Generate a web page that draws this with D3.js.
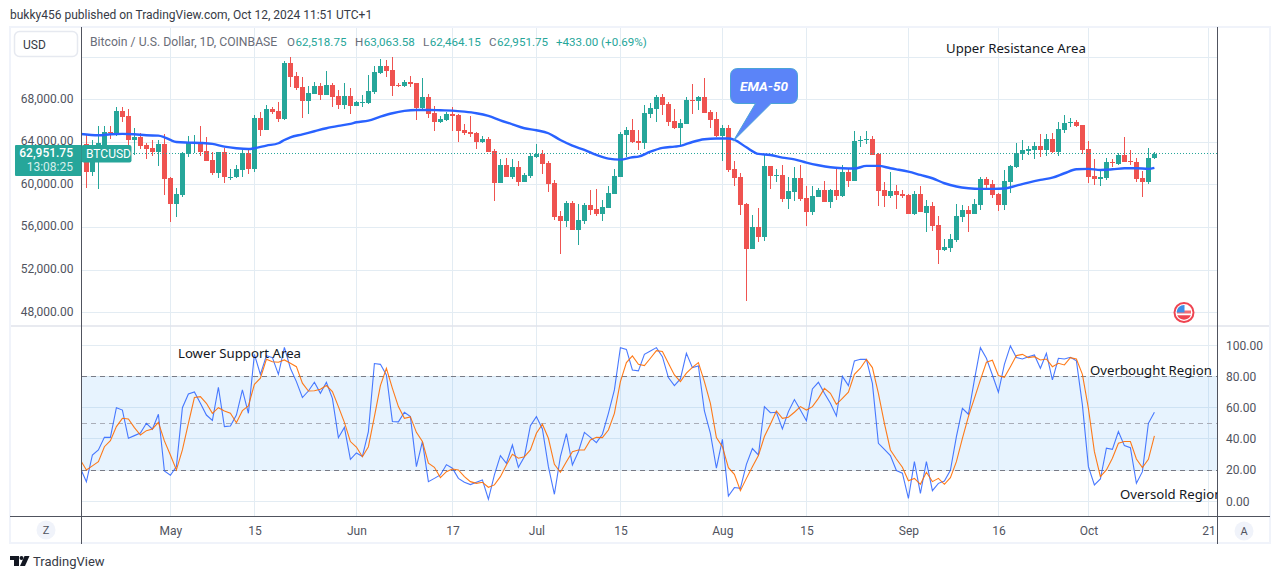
<!DOCTYPE html>
<html>
<head>
<meta charset="utf-8">
<script src="https://cdn.jsdelivr.net/npm/d3@7/dist/d3.min.js"></script>
<style>
    body { margin: 0; background: #fff; }
    svg { display: block; font-family: Roboto, sans-serif; }
    .tick text { fill: #50535e; font-size: 12px; }
</style>
</head>
<body>
<script>
// daily candles, first one is Apr 17 2024
var opens = [
    63820,61220,62980,63760,65010,64890,66960,66490,64230,64480,
    63760,63480,63100,63860,60660,58220,59060,62920,63950,64040,
    63200,62350,61130,63100,60720,60750,61410,63010,61510,66300,
    65170,67150,66960,66210,71470,70250,69210,67900,68550,69310,
    68460,69400,68370,67520,68370,67430,67740,67710,68740,70530,
    71190,70810,69430,69310,69680,69590,67240,68270,66770,65920,
    66110,66680,66580,65170,64980,64890,64040,64330,63200,60190,
    61880,60750,61690,60280,60850,62630,62950,62070,60190,57090,
    56620,58310,55770,56620,58120,57750,57280,57840,59160,60750,
    64700,65170,64140,63950,66680,67150,68270,67620,66020,65360,
    65740,68020,67900,68270,66860,66210,64610,65360,61510,60750,
    58220,53990,56050,55110,61790,60880,60940,58690,59340,60660,
    58780,57460,58870,59530,58400,59530,58970,61220,60380,64170,
    64260,64330,62920,59530,58970,59440,59160,59060,57280,59160,
    57370,58030,56240,53890,54080,54830,56990,57650,57280,58120,
    60570,60100,59160,58120,60280,61690,62920,63230,63290,63670,
    63290,64330,63100,65170,65860,65920,65640,63380,60850,60600,
    60660,62200,61980,62820,62260,62160,60660,60280,62518.75
];
var highs = [
    64700,64230,65550,65550,65550,67330,67360,67150,65360,64860,
    63920,64230,64230,64800,60790,59720,63130,64610,64700,65550,
    64510,63100,63100,63480,61510,61880,63290,63290,66580,66860,
    67520,67330,67800,71660,72030,70620,70150,69310,69680,69590,
    70720,69590,68930,69590,69120,67900,68460,70340,71190,71840,
    71750,72030,69590,69870,70250,69590,70060,68550,67430,66490,
    66860,67330,66680,65740,66490,64980,64610,64510,63380,62450,
    62540,62450,62260,61130,63010,63860,63290,62260,60470,57560,
    58500,58500,58220,58310,59530,59630,58590,59910,61510,64980,
    65450,66210,65170,67520,67710,68460,68550,67800,67150,66210,
    68270,69490,68370,70060,67050,66860,65640,65640,62260,61130,
    58310,57180,57840,62820,61790,61510,61880,60750,61690,61880,
    59910,59910,59720,60380,59630,61510,61880,61510,65080,64610,
    65080,64610,63010,60280,61220,60000,59530,59160,59440,59910,
    58590,58400,57090,54930,55400,58220,58120,58030,58690,60750,
    60750,60470,59250,61410,61880,63950,64230,63670,64040,64800,
    64800,64890,65920,66580,66300,66110,65640,64140,62450,61510,
    62540,62450,63010,64510,63290,62540,61320,63480,63063.58
];
var lows = [
    59720,60850,59630,63600,64330,64610,65890,63600,62820,63420,
    62450,62730,61790,59060,56520,56990,58900,62660,62980,62730,
    62260,60940,60660,60190,60470,60660,60750,61040,61220,64610,
    65170,66680,65920,66110,69210,68930,66300,66680,68550,67990,
    68460,67330,67150,67150,66680,67430,67330,67620,68550,70430,
    70150,68370,69210,69210,69210,66110,66960,66300,65080,65830,
    66020,65080,64040,64700,64510,63380,63950,63100,58500,60190,
    60750,60570,59910,60280,60660,62540,61040,59340,56710,53520,
    56050,55770,54360,56340,57180,57090,56620,57840,59160,60750,
    62660,63950,63290,63380,66300,65920,66580,65550,65270,63670,
    65740,66680,67050,66770,65360,64510,62260,61220,59910,57180,
    49100,53990,54640,54740,59630,60280,58400,57750,58500,58500,
    56150,57180,58870,58400,57840,58590,58870,59810,60380,63570,
    63860,62820,58030,57930,58780,57750,58780,57280,57180,57460,
    55580,55680,52580,53800,53700,54640,56520,55580,57280,57650,
    59530,58780,57560,57650,59250,61600,62350,62820,62450,62630,
    62730,63010,62730,64890,65450,65450,62920,60190,60000,59910,
    60470,61690,61880,62160,61880,60280,58870,60100,62464.15
];
var closes = [
    61220,62980,63920,64980,64920,66960,66390,64230,64480,63670,
    63380,63100,63860,60570,58220,59160,62980,63950,64040,63100,
    62260,61130,63100,60750,60790,61510,63010,61510,66300,65170,
    67150,66860,66210,71470,70150,69120,67900,68650,69310,68460,
    69400,68270,67520,68370,67430,67800,67800,68840,70620,71190,
    70720,69310,69370,69680,69490,67240,68270,66680,65920,66210,
    66680,66490,65080,64890,64800,64040,64330,63100,60190,61880,
    60750,61690,60280,60940,62730,62950,61980,60100,56990,56620,
    58310,55770,56710,58120,57650,57280,57930,59250,60850,64800,
    65170,64040,63950,66770,67240,68270,67520,65920,65360,65830,
    67990,67960,68270,66770,66110,64610,65360,61410,60660,58120,
    53990,56050,55110,61790,60850,60940,58690,59440,60660,58690,
    57460,58970,59530,58400,59530,58970,61220,60380,64140,64230,
    64330,62820,59440,58970,59440,59060,58970,57280,59160,57460,
    58030,56150,53890,54170,54930,57090,57650,57280,58220,60570,
    60000,59060,58120,60380,61790,63010,63290,63350,63670,63290,
    64330,63100,65270,65830,65920,65550,63290,60750,60570,60720,
    62160,62130,62820,62160,62200,60570,60280,62540,62951.75
];

// EMA-50, days counted from Apr 16
var emaDays = [
    0,3,5,7,9,11,13,14,15,16,18,20,22,24,26,28,29,31,33,34,35,37,39,41,43,45,46,48,50,52,
    54,56,58,60,62,64,66,68,70,72,74,76,78,80,82,84,86,88,90,92,93,95,97,99,100,102,104,106,108,109,
    111,113,115,117,119,121,123,125,127,129,131,133,135,136,138,140,142,144,146,148,150,152,154,156,158,160,
    162,164,166,168,170,172,174,176,178,179
];
var emaValues = [
    64800,64670,64760,64800,64760,64670,64640,64480,64230,64040,63980,63950,63860,63600,63450,63380,63450,63700,63920,64230,
    64480,64760,65050,65330,65550,65740,65890,66050,66420,66740,66960,67050,67050,67020,66990,66890,66740,66490,66080,65700,
    65330,65140,64860,64230,63700,63290,62820,62480,62380,62600,62660,63130,63480,63600,63670,64040,64290,64360,64360,64230,
    63540,62920,62820,62570,62410,62100,61850,61660,61570,61540,61790,61790,61570,61470,61250,60940,60630,60160,59850,59690,
    59630,59630,59660,59940,60220,60470,60690,61100,61470,61510,61410,61470,61570,61570,61510,61600
];

// lower pane, first value is Apr 16
var fastLine = [
    21.2,12.6,29.7,32.9,41.0,41.0,60.0,58.5,40.4,42.1,43.8,50.0,46.2,55.8,19.4,16.7,22.2,60.0,68.8,70.1,
    62.8,55.3,51.9,73.1,47.9,48.3,55.3,71.4,56.4,94.2,81.4,93.4,92.1,81.4,98.7,85.3,76.7,66.5,70.7,76.3,
    69.2,76.3,66.0,40.8,47.4,26.9,31.0,28.8,44.7,88.3,87.8,81.0,51.1,50.9,57.1,54.3,22.2,38.3,12.6,14.7,
    16.9,23.5,21.2,14.7,12.2,10.7,12.2,13.7,1.3,16.9,29.3,24.4,36.1,21.8,28.6,48.5,54.3,46.4,22.2,4.5,
    28.6,43.4,23.3,31.8,44.2,41.0,37.6,43.0,56.4,71.4,98.5,97.4,84.2,83.6,94.2,96.4,98.5,92.7,79.3,74.2,
    78.4,94.9,85.7,86.8,57.9,43.6,21.2,39.7,3.4,8.8,8.3,23.7,33.8,29.7,60.7,56.8,57.1,46.4,57.5,65.2,
    58.5,51.7,72.0,76.3,69.2,62.8,54.7,80.1,74.2,90.0,91.0,91.0,75.6,37.2,33.3,29.3,19.7,18.0,1.9,25.4,
    5.1,25.4,6.8,11.5,13.0,19.9,41.5,59.6,55.8,77.8,98.5,91.7,81.0,69.9,87.8,99.6,92.1,91.2,92.7,93.8,
    85.3,94.9,77.8,91.7,91.2,92.3,90.0,61.8,22.2,10.5,14.3,34.0,33.3,44.7,35.7,34.4,11.5,19.0,50.0,57.1
];
var slowLine = [
    26.5,20.1,22.7,25.4,35.0,38.9,47.9,53.2,52.8,47.2,42.5,45.3,46.4,50.6,38.7,29.7,20.1,32.9,50.0,66.5,
    67.1,62.8,56.4,60.0,57.9,56.4,50.4,58.1,61.1,75.0,78.9,91.0,89.5,89.1,90.6,88.5,86.3,75.7,70.7,70.9,
    71.8,74.2,70.3,60.7,50.6,38.3,34.8,28.6,35.0,54.3,74.2,85.3,72.4,60.7,53.2,54.1,44.2,38.3,24.4,21.8,
    15.2,19.0,20.7,20.1,15.8,12.6,11.5,12.2,9.0,10.5,15.8,23.3,30.1,27.6,28.6,32.9,43.6,49.4,40.4,23.7,
    18.6,25.4,31.8,32.9,32.9,39.3,41.0,40.8,45.7,56.4,76.7,88.9,93.2,87.8,87.0,91.7,96.6,96.0,88.5,81.0,
    76.7,82.1,85.9,88.9,76.7,62.8,40.8,35.0,21.6,17.3,6.8,14.7,22.2,29.3,41.5,49.4,57.9,53.2,53.9,57.1,
    60.7,58.5,60.7,66.0,72.4,69.2,62.2,66.0,69.9,81.4,85.3,91.0,85.7,69.2,50.0,32.9,27.1,21.8,13.2,14.7,
    10.9,18.6,12.6,14.7,10.9,15.2,25.4,40.4,54.3,66.0,77.8,89.1,90.4,80.6,79.5,86.3,93.4,94.2,92.1,92.7,
    90.6,91.2,86.3,88.5,87.4,92.1,91.2,81.4,59.6,31.8,15.8,20.1,27.6,37.2,38.3,38.3,27.1,21.6,26.9,41.9
];

var priceTicks = [48000, 52000, 56000, 60000, 64000, 68000];
var priceGridLevels = [48000, 52000, 56000, 60000, 64000, 68000, 72000];
var oscTicks = [0, 20, 40, 60, 80, 100];
var oscDashes = [20, 50, 80];
var timeTicks = [
    Date.UTC(2024, 4, 1), Date.UTC(2024, 4, 15), Date.UTC(2024, 5, 1), Date.UTC(2024, 5, 17),
    Date.UTC(2024, 6, 1), Date.UTC(2024, 6, 15), Date.UTC(2024, 7, 1), Date.UTC(2024, 7, 15),
    Date.UTC(2024, 8, 1), Date.UTC(2024, 8, 16), Date.UTC(2024, 9, 1), Date.UTC(2024, 9, 21)
];
var timeLabels = ['May', '15', 'Jun', '17', 'Jul', '15', 'Aug', '15', 'Sep', '16', 'Oct', '21'];

var DAY = 86400000;
var oscStart = Date.UTC(2024, 3, 16);
var candleStart = Date.UTC(2024, 3, 17);
var lastClose = closes[closes.length - 1];

var left = 81.5, right = 1217.5;
var green = '#26a69a', red = '#ef5350', gridColor = '#e3ecf3';

var x = d3.scaleUtc().domain([oscStart, Date.UTC(2024, 9, 21)]).range([80.4, 1208.4]);
var y = d3.scaleLinear().domain([48000, 72000]).range([312.6, 57.3]);
var yOsc = d3.scaleLinear().domain([0, 100]).range([501.3, 345.3]);

var svg = d3.select('body').append('svg').attr('width', 1281).attr('height', 579);

svg.append('defs').append('clipPath').attr('id', 'plot')
    .append('rect').attr('x', left).attr('y', 27).attr('width', right - left).attr('height', 490);

// frame
svg.append('rect').attr('x', 10).attr('y', 27).attr('width', 1260).attr('height', 516)
    .attr('fill', 'none').attr('stroke', '#f0f3fa').attr('stroke-width', 2);

// grids
var grid = svg.append('g').attr('stroke', gridColor).attr('shape-rendering', 'crispEdges');
grid.selectAll('.v').data(timeTicks).enter().append('line')
    .attr('x1', function(d) { return x(d); }).attr('x2', function(d) { return x(d); })
    .attr('y1', 28).attr('y2', 516);
grid.selectAll('.p').data(priceGridLevels).enter().append('line')
    .attr('x1', left).attr('x2', right)
    .attr('y1', function(d) { return y(d); }).attr('y2', function(d) { return y(d); });
grid.selectAll('.o').data(oscTicks).enter().append('line')
    .attr('x1', left).attr('x2', right)
    .attr('y1', function(d) { return yOsc(d); }).attr('y2', function(d) { return yOsc(d); });

// oscillator band
svg.append('rect').attr('x', left).attr('width', right - left)
    .attr('y', yOsc(80)).attr('height', yOsc(20) - yOsc(80))
    .attr('fill', '#2196f3').attr('fill-opacity', 0.11);
svg.selectAll('.dash').data(oscDashes).enter().append('line')
    .attr('x1', left).attr('x2', right)
    .attr('y1', function(d) { return yOsc(d); }).attr('y2', function(d) { return yOsc(d); })
    .attr('stroke', function(d) { return d == 50 ? '#a9adb8' : '#787b86'; })
    .attr('stroke-dasharray', '5,4')
    .attr('shape-rendering', 'crispEdges');

// candles
var candles = svg.append('g').attr('clip-path', 'url(#plot)');
var bars = candles.selectAll('g').data(closes).enter().append('g')
    .attr('fill', function(d, i) { return d >= opens[i] ? green : red; })
    .attr('shape-rendering', 'crispEdges');
function candleX(i) {
    return Math.floor(x(candleStart + i * DAY));
}
bars.append('rect')
    .attr('x', function(d, i) { return candleX(i); })
    .attr('width', 1)
    .attr('y', function(d, i) { return y(highs[i]); })
    .attr('height', function(d, i) { return y(lows[i]) - y(highs[i]); });
bars.append('rect')
    .attr('x', function(d, i) { return candleX(i) - 2; })
    .attr('width', 5)
    .attr('y', function(d, i) { return y(Math.max(opens[i], d)); })
    .attr('height', function(d, i) { return Math.max(1, Math.abs(y(opens[i]) - y(d))); });

// last price line
svg.append('line').attr('x1', left).attr('x2', right)
    .attr('y1', Math.floor(y(lastClose)) + 0.5).attr('y2', Math.floor(y(lastClose)) + 0.5)
    .attr('stroke', green).attr('stroke-dasharray', '1,2')
    .attr('shape-rendering', 'crispEdges');

// EMA
var emaLine = d3.line()
    .x(function(d, i) { return x(oscStart + d * DAY); })
    .y(function(d, i) { return y(emaValues[i]); })
    .curve(d3.curveMonotoneX);
svg.append('path').datum(emaDays).attr('d', emaLine)
    .attr('clip-path', 'url(#plot)')
    .attr('fill', 'none').attr('stroke', '#2962ff').attr('stroke-width', 2.4);

// oscillator lines
var oscLine = d3.line()
    .x(function(d, i) { return x(oscStart + i * DAY); })
    .y(function(d) { return yOsc(d); });
svg.append('path').datum(fastLine).attr('d', oscLine).attr('clip-path', 'url(#plot)')
    .attr('fill', 'none').attr('stroke', '#2962ff').attr('stroke-width', 1.1).attr('stroke-opacity', 0.85);
svg.append('path').datum(slowLine).attr('d', oscLine).attr('clip-path', 'url(#plot)')
    .attr('fill', 'none').attr('stroke', '#ff6d00').attr('stroke-width', 1.1).attr('stroke-opacity', 0.9);

// pane separators
svg.append('line').attr('x1', 11).attr('x2', 1269).attr('y1', 326).attr('y2', 326)
    .attr('stroke', '#e0e3eb').attr('stroke-width', 1.5);
svg.append('line').attr('x1', 10).attr('x2', 1270).attr('y1', 516.5).attr('y2', 516.5)
    .attr('stroke', '#50535e');
svg.append('line').attr('x1', left).attr('x2', left).attr('y1', 27).attr('y2', 544)
    .attr('stroke', '#50535e');
svg.append('line').attr('x1', right).attr('x2', right).attr('y1', 27).attr('y2', 544)
    .attr('stroke', '#50535e');

// axes
var priceAxis = d3.axisLeft(y).tickValues(priceTicks).tickFormat(d3.format(',.2f')).tickSize(0).tickPadding(8);
var gPrice = svg.append('g').attr('transform', 'translate(' + left + ',0)').call(priceAxis);
var oscAxis = d3.axisRight(yOsc).tickValues(oscTicks).tickFormat(d3.format('.2f')).tickSize(0).tickPadding(8.5);
var gOsc = svg.append('g').attr('transform', 'translate(' + right + ',0)').call(oscAxis);
var timeAxis = d3.axisBottom(x).tickValues(timeTicks)
    .tickFormat(function(d, i) { return timeLabels[i]; }).tickSize(0).tickPadding(9.5);
var gTime = svg.append('g').attr('transform', 'translate(0,516.5)').call(timeAxis);
gPrice.select('.domain').remove();
gOsc.select('.domain').remove();
gTime.select('.domain').remove();
svg.selectAll('.tick text').attr('font-family', 'Roboto, sans-serif');
gPrice.selectAll('.tick text').attr('dy', '0.2em');

// price tag
svg.append('rect').attr('x', 15).attr('y', 145).attr('width', 66.5).attr('height', 31).attr('rx', 1).attr('fill', green);
svg.append('rect').attr('x', 81.5).attr('y', 145).attr('width', 50).attr('height', 17.5).attr('rx', 2).attr('fill', green);
svg.append('text').attr('x', 73).attr('y', 157).attr('text-anchor', 'end').attr('fill', '#fff')
    .attr('font-size', 12).attr('font-weight', 500).text(d3.format(',.2f')(lastClose));
svg.append('text').attr('x', 73).attr('y', 171).attr('text-anchor', 'end').attr('fill', '#d6efec')
    .attr('font-size', 12).text('13:08:25');
svg.append('text').attr('x', 86).attr('y', 158).attr('fill', '#fff').attr('font-size', 12).text('BTCUSD');

// header and legend
svg.append('text').attr('x', 10).attr('y', 19).attr('fill', '#363a45').attr('font-size', 12)
    .text('bukky456 published on TradingView.com, Oct 12, 2024 11:51 UTC+1');
svg.append('rect').attr('x', 14.5).attr('y', 31.5).attr('width', 63).attr('height', 25).attr('rx', 5)
    .attr('fill', '#fff').attr('stroke', '#e6e9f0').attr('stroke-width', 1.5);
svg.append('text').attr('x', 23).attr('y', 49).attr('fill', '#363a45').attr('font-size', 12).text('USD');
svg.append('text').attr('x', 90).attr('y', 46).attr('fill', '#6a6d78').attr('font-size', 12.2)
    .text('Bitcoin / U.S. Dollar, 1D, COINBASE');

var legendKeys = ['O', 'H', 'L', 'C'];
var legendValues = [opens[opens.length - 1], highs[highs.length - 1], lows[lows.length - 1], lastClose];
var legendX = [287, 355, 423, 489];
legendKeys.forEach(function(k, i) {
    var t = svg.append('text').attr('x', legendX[i]).attr('y', 46).attr('font-size', 11.6);
    t.append('tspan').attr('fill', '#6a6d78').text(k);
    t.append('tspan').attr('fill', green).attr('dx', 0.5).text(d3.format(',.2f')(legendValues[i]));
});
svg.append('text').attr('x', 556).attr('y', 46).attr('fill', green).attr('font-size', 11.6).text('+433.00 (+0.69%)');

// hand drawn notes on the chart, the last one runs into the price axis
var notes = [
    ['Upper Resistance Area', 946, 53],
    ['Lower Support Area', 178, 358],
    ['Overbought Region', 1090, 375],
    ['Oversold Region', 1120, 499]
];
svg.append('g').attr('clip-path', 'url(#plot)').selectAll('text').data(notes).enter().append('text')
    .attr('x', function(d) { return d[1]; })
    .attr('y', function(d) { return d[2]; })
    .attr('fill', '#131722')
    .attr('font-size', 13.2)
    .attr('font-family', '"Noto Sans", sans-serif')
    .text(function(d) { return d[0]; });

// EMA-50 callout
svg.append('path')
    .attr('d', 'M738,68.5 H790 Q797.5,68.5 797.5,76 V96 Q797.5,103.5 790,103.5 H771 L733.3,141 L755.5,103.5 H738 Q730.5,103.5 730.5,96 V76 Q730.5,68.5 738,68.5 Z')
    .attr('fill', '#5b84f8').attr('stroke', '#4aa3d8').attr('stroke-width', 1);
svg.append('text').attr('x', 764).attr('y', 90.5).attr('text-anchor', 'middle')
    .attr('fill', '#fff').attr('font-size', 13.5).attr('font-style', 'italic').attr('font-weight', 700)
    .text('EMA-50');

// flag
var flag = svg.append('g').attr('transform', 'translate(1184,312.5)');
flag.append('circle').attr('r', 9.5).attr('fill', '#fff').attr('stroke', '#ef4451').attr('stroke-width', 2);
flag.append('rect').attr('x', -7).attr('y', -2).attr('width', 14).attr('height', 3).attr('fill', '#f26d75');
flag.append('path').attr('d', 'M-6.8,2.8 H6.8 A7.5,7.5 0 0 1 -6.8,2.8 Z').attr('fill', '#ef4451');
flag.append('path').attr('d', 'M-7.5,0 A7.5,7.5 0 0 1 0.5,-7.5 V0 Z').attr('fill', '#3e8fe8');

// Z and A buttons
[[46, 530, 'Z'], [1244, 531, 'A']].forEach(function(b) {
    svg.append('circle').attr('cx', b[0]).attr('cy', b[1]).attr('r', 9.5).attr('fill', '#f0f3fa');
    svg.append('text').attr('x', b[0]).attr('y', b[1] + 4).attr('text-anchor', 'middle')
        .attr('fill', '#50535e').attr('font-size', 11).text(b[2]);
});

// logo
var logo = svg.append('g').attr('fill', '#131722');
logo.append('path').attr('d', 'M10,556 H19 V566 H14 V560 H10 Z');
logo.append('circle').attr('cx', 21.5).attr('cy', 558).attr('r', 2);
logo.append('path').attr('d', 'M24.5,556 H29.5 L25,566 H20 Z');
svg.append('text').attr('x', 33).attr('y', 566).attr('fill', '#363a45').attr('font-size', 13).text('TradingView');
</script>
</body>
</html>
